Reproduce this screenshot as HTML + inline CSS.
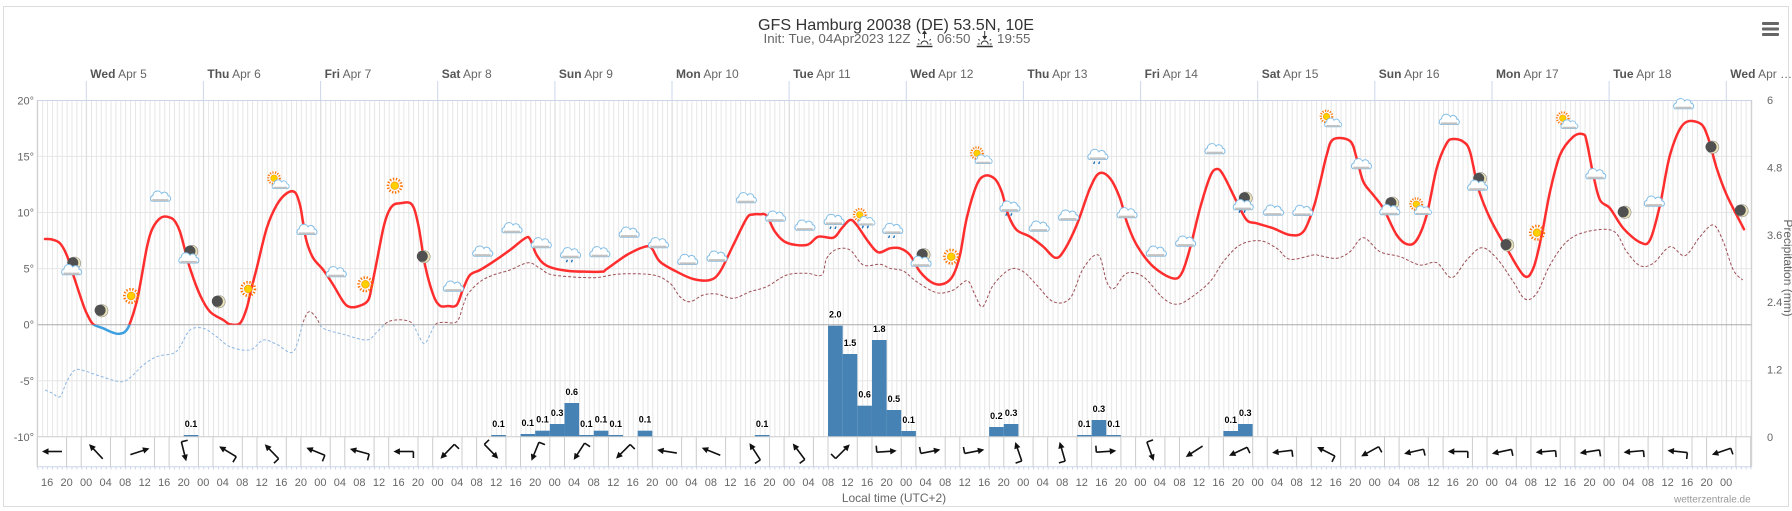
<!DOCTYPE html>
<html><head><meta charset="utf-8"><style>
html,body{margin:0;padding:0;background:#fff;}
svg{display:block;font-family:"Liberation Sans",Arial,sans-serif;}
</style></head><body>
<svg id="ch" width="1792" height="511" viewBox="0 0 1792 511" xmlns="http://www.w3.org/2000/svg">
<defs>
<pattern id="hp" patternUnits="userSpaceOnUse" x="37.3" y="0" width="4.881" height="20"><rect x="0" y="0" width="1" height="20" fill="#e6e6e6"/></pattern>
<pattern id="tp" patternUnits="userSpaceOnUse" x="37.3" y="0" width="4.881" height="20"><rect x="0" y="0" width="1" height="20" fill="#ccd6eb"/></pattern>
<clipPath id="ab"><rect x="0" y="0" width="1792" height="324.7"/></clipPath>
<clipPath id="bl"><rect x="0" y="324.7" width="1792" height="200"/></clipPath>
<g id="cl"><path d="M-8.5,4.5A3.2,3.2 0 0 1 -7.5,-1.2A4.6,4.6 0 0 1 1.2,-3.2A3.6,3.6 0 0 1 7.6,-1A2.9,2.9 0 0 1 8.5,4.5Z" fill="#fff" stroke="#82bde6" stroke-width="1"/><rect x="-8" y="2.4" width="16" height="2.1" fill="#c2c2c2"/></g>
<g id="sn"><circle r="6.8" fill="none" stroke="#ff7300" stroke-width="2.6" stroke-dasharray="1.3 1.7"/><circle r="3.8" fill="#ffd000" stroke="#ffa000" stroke-width="0.8"/></g>
<g id="mn"><circle r="6.2" fill="#ebe3b8" stroke="#8a8a8a" stroke-width="0.6"/><circle cx="-1.7" cy="-0.4" r="5.5" fill="#505050"/></g>
<g id="rn"><path d="M-3,6.5l-1,2.5M2,6.5l-1,2.5" stroke="#1f6fb5" stroke-width="1.4"/></g>
<g id="C"><use href="#cl"/></g>
<g id="CR"><use href="#cl"/><use href="#rn"/></g>
<g id="S"><use href="#sn"/></g>
<g id="M"><use href="#mn"/></g>
<g id="SC"><use href="#sn" transform="translate(-3.5,-3.5) scale(0.85)"/><use href="#cl" transform="translate(3,3) scale(0.85)"/></g>
<g id="SCR"><use href="#sn" transform="translate(-3.5,-3.5) scale(0.85)"/><use href="#cl" transform="translate(3,3) scale(0.85)"/><use href="#rn" transform="translate(3,1)"/></g>
<g id="MC"><use href="#mn" transform="translate(2,-3.5)"/><use href="#cl" transform="translate(-1,3.5)"/></g>
<g id="MCR"><use href="#mn" transform="translate(2,-3.5)"/><use href="#cl" transform="translate(-1,3.5)"/><use href="#rn" transform="translate(-1,2)"/></g>
<g id="a0"><path d="M-10,0H5" stroke="#111" stroke-width="1.6"/><path d="M10,0L3.5,-3.2V3.2Z" fill="#111"/></g>
<g id="a1"><use href="#a0"/><path d="M-10,0V-6.5" stroke="#111" stroke-width="1.6"/></g>
</defs>

<!-- chart border -->
<rect x="3.5" y="6.5" width="1785" height="500" fill="#fff" stroke="#dddddd" stroke-width="1"/>

<!-- title -->
<text x="896" y="30" text-anchor="middle" font-size="16" fill="#333" textLength="276" lengthAdjust="spacingAndGlyphs">GFS Hamburg 20038 (DE) 53.5N, 10E</text>
<text x="763.5" y="43" font-size="13" fill="#666" textLength="147" lengthAdjust="spacingAndGlyphs">Init: Tue, 04Apr2023 12Z</text>
<g transform="translate(924.5,0)" stroke="#333" fill="none" stroke-width="1">
<path d="M-8,46.5H8" stroke-width="1.4"/><path d="M-3.5,44.5A3.5,3.5 0 0 1 3.5,44.5"/><path d="M-7,44h2M5,44h2M-5,40.5l-1.3,-1.3M5,40.5l1.3,-1.3"/><path d="M0,38.5V32"/><path d="M-2,34L0,31L2,34" fill="#333"/>
</g>
<text x="937" y="43" font-size="13" fill="#666" textLength="33.5" lengthAdjust="spacingAndGlyphs">06:50</text>
<g transform="translate(984.7,0)" stroke="#333" fill="none" stroke-width="1">
<path d="M-8,46.5H8" stroke-width="1.4"/><path d="M-3.5,44.5A3.5,3.5 0 0 1 3.5,44.5"/><path d="M-7,44h2M5,44h2M-5,40.5l-1.3,-1.3M5,40.5l1.3,-1.3"/><path d="M0,31V38"/><path d="M-2,36L0,39L2,36" fill="#333"/>
</g>
<text x="997" y="43" font-size="13" fill="#666" textLength="33.5" lengthAdjust="spacingAndGlyphs">19:55</text>

<!-- hamburger -->
<rect x="1762" y="22" width="17" height="3" rx="1" fill="#666"/>
<rect x="1762" y="27.5" width="17" height="3" rx="1" fill="#666"/>
<rect x="1762" y="33" width="17" height="3" rx="1" fill="#666"/>

<!-- plot grid -->
<rect x="37.3" y="100" width="1714.4" height="336.7" fill="url(#hp)"/>
<g stroke="#e6e6e6" stroke-width="1">
<path d="M37.3,156.4H1751.7M37.3,212.5H1751.7M37.3,268.6H1751.7M37.3,380.8H1751.7"/>
</g>
<g stroke="#dcdcdc" stroke-width="1">
<path d="M86.3,100V436.7M203.4,100V436.7M320.6,100V436.7M437.7,100V436.7M554.9,100V436.7M672,100V436.7M789.1,100V436.7M906.3,100V436.7M1023.4,100V436.7M1140.6,100V436.7M1257.7,100V436.7M1374.8,100V436.7M1492,100V436.7M1609.1,100V436.7M1726.3,100V436.7"/>
</g>
<path d="M37.3,324.7H1751.7" stroke="#aaaaaa" stroke-width="1"/>
<path d="M37.3,100.5H1751.7" stroke="#ccd6eb" stroke-width="1"/>
<path d="M37.3,100V466.7M1751.7,100V466.7" stroke="#cccccc" stroke-width="1"/>
<!-- top day ticks -->
<path d="M86.3,81V100M203.4,81V100M320.6,81V100M437.7,81V100M554.9,81V100M672,81V100M789.1,81V100M906.3,81V100M1023.4,81V100M1140.6,81V100M1257.7,81V100M1374.8,81V100M1492,81V100M1609.1,81V100M1726.3,81V100" stroke="#ccd6eb" stroke-width="1"/>

<!-- day labels -->
<g font-size="12" fill="#666">
<text x="90.3" y="78"><tspan font-weight="bold" fill="#555">Wed</tspan> Apr 5</text>
<text x="207.4" y="78"><tspan font-weight="bold" fill="#555">Thu</tspan> Apr 6</text>
<text x="324.6" y="78"><tspan font-weight="bold" fill="#555">Fri</tspan> Apr 7</text>
<text x="441.7" y="78"><tspan font-weight="bold" fill="#555">Sat</tspan> Apr 8</text>
<text x="558.9" y="78"><tspan font-weight="bold" fill="#555">Sun</tspan> Apr 9</text>
<text x="676" y="78"><tspan font-weight="bold" fill="#555">Mon</tspan> Apr 10</text>
<text x="793.1" y="78"><tspan font-weight="bold" fill="#555">Tue</tspan> Apr 11</text>
<text x="910.3" y="78"><tspan font-weight="bold" fill="#555">Wed</tspan> Apr 12</text>
<text x="1027.4" y="78"><tspan font-weight="bold" fill="#555">Thu</tspan> Apr 13</text>
<text x="1144.6" y="78"><tspan font-weight="bold" fill="#555">Fri</tspan> Apr 14</text>
<text x="1261.7" y="78"><tspan font-weight="bold" fill="#555">Sat</tspan> Apr 15</text>
<text x="1378.8" y="78"><tspan font-weight="bold" fill="#555">Sun</tspan> Apr 16</text>
<text x="1496" y="78"><tspan font-weight="bold" fill="#555">Mon</tspan> Apr 17</text>
<text x="1613.1" y="78"><tspan font-weight="bold" fill="#555">Tue</tspan> Apr 18</text>
<text x="1730.3" y="78"><tspan font-weight="bold" fill="#555">Wed</tspan> Apr …</text>
</g>

<!-- left axis labels -->
<g font-size="11" fill="#666" text-anchor="end">
<text x="34" y="104.3">20°</text>
<text x="34" y="160.4">15°</text>
<text x="34" y="216.5">10°</text>
<text x="34" y="272.6">5°</text>
<text x="34" y="328.7">0°</text>
<text x="34" y="384.8">-5°</text>
<text x="34" y="440.9">-10°</text>
</g>
<!-- right axis labels -->
<g font-size="11" fill="#666">
<text x="1767" y="104">6</text>
<text x="1767" y="171.4">4.8</text>
<text x="1767" y="238.8">3.6</text>
<text x="1767" y="306.2">2.4</text>
<text x="1767" y="373.6">1.2</text>
<text x="1767" y="441">0</text>
</g>
<text transform="translate(1784,268) rotate(90)" text-anchor="middle" font-size="12" fill="#666">Precipitation (mm)</text>

<!-- precipitation bars -->
<g fill="#4682b4">
<rect x="183.73" y="435" width="14.64" height="1.7"/>
<rect x="491.23" y="435" width="14.64" height="1.7"/>
<rect x="520.52" y="434" width="14.64" height="2.7"/>
<rect x="535.16" y="430.7" width="14.64" height="6"/>
<rect x="549.81" y="424" width="14.64" height="12.7"/>
<rect x="564.45" y="403" width="14.64" height="33.7"/>
<rect x="579.09" y="435" width="14.64" height="1.7"/>
<rect x="593.73" y="430.7" width="14.64" height="6"/>
<rect x="608.38" y="435" width="14.64" height="1.7"/>
<rect x="637.66" y="430.7" width="14.64" height="6"/>
<rect x="754.81" y="435" width="14.64" height="1.7"/>
<rect x="828.02" y="325.7" width="14.64" height="111"/>
<rect x="842.67" y="354" width="14.64" height="82.7"/>
<rect x="857.31" y="405.7" width="14.64" height="31"/>
<rect x="871.95" y="340" width="14.64" height="96.7"/>
<rect x="886.59" y="410" width="14.64" height="26.7"/>
<rect x="901.24" y="431" width="14.64" height="5.7"/>
<rect x="989.1" y="427" width="14.64" height="9.7"/>
<rect x="1003.74" y="424" width="14.64" height="12.7"/>
<rect x="1076.95" y="435" width="14.64" height="1.7"/>
<rect x="1091.6" y="420" width="14.64" height="16.7"/>
<rect x="1106.24" y="435" width="14.64" height="1.7"/>
<rect x="1223.38" y="431" width="14.64" height="5.7"/>
<rect x="1238.03" y="424" width="14.64" height="12.7"/>
</g>
<g font-size="9" font-weight="bold" fill="#000" text-anchor="middle" stroke="#fff" stroke-width="2" paint-order="stroke" stroke-linejoin="round">
<text x="191" y="427">0.1</text>
<text x="498.5" y="427">0.1</text>
<text x="527.8" y="426">0.1</text>
<text x="542.5" y="422.7">0.1</text>
<text x="557.1" y="416">0.3</text>
<text x="571.8" y="395">0.6</text>
<text x="586.4" y="427">0.1</text>
<text x="601" y="422.7">0.1</text>
<text x="615.7" y="427">0.1</text>
<text x="645" y="422.7">0.1</text>
<text x="762.1" y="427">0.1</text>
<text x="835.3" y="317.7">2.0</text>
<text x="850" y="346">1.5</text>
<text x="864.6" y="397.7">0.6</text>
<text x="879.3" y="332">1.8</text>
<text x="893.9" y="402">0.5</text>
<text x="908.6" y="423">0.1</text>
<text x="996.4" y="419">0.2</text>
<text x="1011.1" y="416">0.3</text>
<text x="1084.3" y="427">0.1</text>
<text x="1098.9" y="412">0.3</text>
<text x="1113.6" y="427">0.1</text>
<text x="1230.7" y="423">0.1</text>
<text x="1245.3" y="416">0.3</text>
</g>

<!-- dew point -->
<g fill="none" stroke-width="1" stroke-dasharray="3 2">
<polyline class="sm" clip-path="url(#ab)" stroke="#9e4f55" points="45,390 52,393 60,396.7 66.7,381.7 75,370 85,371 96.7,375 120,381.7 130,377.7 143.3,365 156.7,356.7 173.3,353.3 180,346.7 190,330 203.3,328.3 216.7,336.7 230,346.7 250,350 263.3,340 276.7,344.3 293.3,351.7 303.3,321.7 309.3,311.7 316.7,318.3 323.3,328.3 343.3,334.3 366.7,340 376.7,332.3 390,321 410,321.7 418.3,335 425,343.3 435,325 443.3,322.3 456.7,321.7 463.3,305 468,294 480,281.7 493.3,275 510,270 528.3,262.7 540,268.3 553.3,275 593.3,277.7 620,274 653.3,275 670,283.3 680,296.7 690,301.7 703.3,295 716.7,294 733.3,298.3 750,291.7 766.7,286.7 786.7,275 806.7,273.3 821.7,275 826.7,258.3 836.7,249.3 850,250 863.3,265 880,264.3 890,268.3 903.3,271 916.7,281.7 936.7,292.7 953.3,290 967.3,280.7 975,295 982.7,306.7 993.3,285 1010,269.3 1023.3,271.7 1036.7,285 1053.3,301.7 1070,298.3 1083.3,268.3 1098.3,255 1106.7,281.7 1114,288.3 1126.7,273.3 1143.3,276.7 1163.3,298.3 1176.7,304.3 1190,298.3 1210,281.7 1223.3,261.7 1240,245 1260,240.7 1276.7,248.3 1290,259.3 1313.3,255 1320,255.7 1336.7,258.3 1350,251.7 1363.3,237.7 1380,251.7 1400,256.7 1420,265 1436.7,262.7 1451.7,277.7 1466.7,260 1481.7,247.7 1496.7,258.3 1513.3,281.7 1525,299 1536.7,293.3 1550,265 1566.7,241.7 1586.7,231.7 1613.3,231 1626.7,251.7 1640,265.7 1653.3,263.3 1670,246.7 1685,255.7 1700,236.7 1713.3,225 1723.3,241.7 1733.3,270 1742.7,280"/>
<polyline class="sm" clip-path="url(#bl)" stroke="#8db6e2" points="45,390 52,393 60,396.7 66.7,381.7 75,370 85,371 96.7,375 120,381.7 130,377.7 143.3,365 156.7,356.7 173.3,353.3 180,346.7 190,330 203.3,328.3 216.7,336.7 230,346.7 250,350 263.3,340 276.7,344.3 293.3,351.7 303.3,321.7 309.3,311.7 316.7,318.3 323.3,328.3 343.3,334.3 366.7,340 376.7,332.3 390,321 410,321.7 418.3,335 425,343.3 435,325 443.3,322.3 456.7,321.7 463.3,305 468,294"/>
</g>

<!-- temperature -->
<g fill="none" stroke-width="2.5" stroke-linejoin="round" stroke-linecap="round">
<polyline class="sm" clip-path="url(#ab)" stroke="#ff2e2e" points="45,239 52,239.5 60,243.3 66.7,255 73.3,275 83.3,305 88,316 93.3,324.3 103.3,328.3 110,331.5 116.7,333.7 121,333.5 125,331.7 129.3,325 136.7,301.7 141,280 146.7,248.3 151,232 156.7,221.7 163.3,216.7 171.7,218.3 176,223 180,231.7 185,250 190,268.3 200,295 210,311.7 223.3,320 230,324.3 240,323.3 246.7,308.3 251,290 256.7,268.3 266.7,228.3 276.7,205 286.7,193.3 295,192.3 300,205 303,222 306.7,241.7 313.3,258.3 323.3,270 333.3,285 343.3,301.7 350,307 360,305.7 368.3,300 372,285 376.7,261.7 383.3,228.3 388,213 393.3,205 400,203.3 411.7,204.3 418.3,225 425,265 433.3,295 440,305.7 448,306 456.7,305 463.3,288.3 470,275 480,270 493.3,261.7 510,250 525,238.3 530,239 536.7,255 546.7,265.7 566.7,270.7 600,271.7 606.7,269 626.7,255 645,246.7 651.7,248.3 660,261.7 676.7,271.7 693.3,279 710,280 720,271.7 733.3,245 746.7,218.3 753,214.5 760,214.3 766.7,215.7 775,231.7 786.7,242.7 806.7,245 818.3,236.7 833.3,237.7 841.7,228.3 850,220 856.7,225 868.3,241.7 878.3,252.3 890,248.3 900,248.3 910,255 920,271.7 933.3,283.3 945,283.3 953.3,275 960,255 966.7,218.3 976.7,185 985,175.7 995,179 1001.7,191.7 1008.3,215 1016.7,230 1030,236.7 1043.3,246.7 1055,257.7 1063.3,251.7 1076.7,225 1090,188.3 1099.3,173.3 1110,178.3 1120,198.3 1126.7,221.7 1136.7,245 1153.3,266.7 1172.7,278.3 1181.7,273.3 1190,248.3 1200,208.3 1210,176.7 1216.7,169 1223.3,175 1236.7,201.7 1246.7,220 1256.7,223.3 1273.3,228.3 1290,235 1303.3,231.7 1313.3,208.3 1320,183 1326.7,155 1333.3,139.3 1350,141 1356.7,158.3 1363.3,181.7 1373.3,195 1383.3,208.3 1396.7,235 1407.3,244.3 1416.7,240 1426.7,215 1436.7,168.3 1446.7,143.3 1453.3,139 1463.3,141.7 1470,151.7 1478.3,188.3 1490,218.3 1506.7,248.3 1524,275.7 1533.3,268.3 1541.7,235 1550,191.7 1560,155 1573.3,136.7 1583.3,134.3 1586.7,141.7 1593.3,175 1600,200 1610,208.3 1623.3,228.3 1640,242.3 1650,240 1660,205 1670,155 1683.3,124.3 1700,123.3 1708.3,138.3 1716.7,168.3 1726.7,195 1744,229.3"/>
<polyline class="sm" clip-path="url(#bl)" stroke="#3c9fe0" points="73.3,275 83.3,305 88,316 93.3,324.3 103.3,328.3 110,331.5 116.7,333.7 121,333.5 125,331.7 129.3,325 136.7,301.7 141,280"/>
</g>

<!-- weather icons -->
<use href="#MC" x="72.5" y="266.7"/>
<use href="#M" x="101.8" y="310.7"/>
<use href="#S" x="131.1" y="296"/>
<use href="#C" x="160.4" y="196.7"/>
<use href="#MC" x="189.7" y="255"/>
<use href="#M" x="219" y="301.7"/>
<use href="#S" x="248.2" y="289"/>
<use href="#SC" x="277.5" y="181.7"/>
<use href="#C" x="306.8" y="230"/>
<use href="#C" x="336.1" y="272.3"/>
<use href="#S" x="365.4" y="284.3"/>
<use href="#S" x="394.7" y="185.7"/>
<use href="#M" x="424" y="256.7"/>
<use href="#C" x="453.3" y="286.7"/>
<use href="#C" x="482.6" y="251.7"/>
<use href="#C" x="511.9" y="228.3"/>
<use href="#C" x="541.1" y="243.3"/>
<use href="#CR" x="570.4" y="253.3"/>
<use href="#C" x="599.7" y="252.3"/>
<use href="#C" x="629" y="232.7"/>
<use href="#C" x="658.3" y="243.3"/>
<use href="#C" x="687.6" y="260"/>
<use href="#C" x="716.9" y="256.7"/>
<use href="#C" x="746.2" y="198.3"/>
<use href="#C" x="775.5" y="216.7"/>
<use href="#C" x="804.8" y="225.7"/>
<use href="#CR" x="834" y="220"/>
<use href="#SCR" x="863.3" y="218.3"/>
<use href="#CR" x="892.6" y="229"/>
<use href="#MC" x="921.9" y="258.3"/>
<use href="#S" x="951.2" y="256.7"/>
<use href="#SC" x="980.5" y="156.7"/>
<use href="#CR" x="1009.8" y="206.7"/>
<use href="#C" x="1039.1" y="226.7"/>
<use href="#C" x="1068.4" y="215.7"/>
<use href="#CR" x="1097.7" y="155"/>
<use href="#C" x="1126.9" y="213.3"/>
<use href="#C" x="1156.2" y="251.7"/>
<use href="#C" x="1185.5" y="241.7"/>
<use href="#C" x="1214.8" y="149.3"/>
<use href="#MCR" x="1244.1" y="201.7"/>
<use href="#C" x="1273.4" y="210.7"/>
<use href="#C" x="1302.7" y="211"/>
<use href="#SC" x="1330" y="120"/>
<use href="#C" x="1361.3" y="164.3"/>
<use href="#MC" x="1390.6" y="206.7"/>
<use href="#SC" x="1419.8" y="207.7"/>
<use href="#C" x="1449.1" y="120"/>
<use href="#MC" x="1478.4" y="182.3"/>
<use href="#M" x="1507.7" y="245"/>
<use href="#S" x="1537" y="232.7"/>
<use href="#SC" x="1566.3" y="121.7"/>
<use href="#C" x="1595.6" y="174.3"/>
<use href="#M" x="1624.9" y="212.3"/>
<use href="#C" x="1654.2" y="201.7"/>
<use href="#C" x="1683.5" y="104.3"/>
<use href="#M" x="1712.7" y="147.3"/>
<use href="#M" x="1742" y="210.7"/>

<!-- wind panel -->
<path d="M37.3,436.7H1751.7" stroke="#cccccc" stroke-width="1"/>
<path d="M37.3,466.7H1751.7" stroke="#ccd6eb" stroke-width="1"/>
<rect x="37.3" y="467" width="1714.4" height="2.5" fill="url(#tp)"/>
<path stroke="#cccccc" stroke-width="1" d="M37.3,437v30M81.2,437v30M125.2,437v30M169.1,437v30M213,437v30M257,437v30M300.9,437v30M344.8,437v30M388.7,437v30M432.7,437v30M476.6,437v30M520.5,437v30M564.5,437v30M608.4,437v30M652.3,437v30M696.3,437v30M740.2,437v30M784.1,437v30M828,437v30M872,437v30M915.9,437v30M959.8,437v30M1003.8,437v30M1047.7,437v30M1091.6,437v30M1135.6,437v30M1179.5,437v30M1223.4,437v30M1267.3,437v30M1311.3,437v30M1355.2,437v30M1399.1,437v30M1443.1,437v30M1487,437v30M1530.9,437v30M1574.9,437v30M1618.8,437v30M1662.7,437v30M1706.6,437v30M1750.6,437v30M66.6,437v30M110.5,437v30M154.5,437v30M198.4,437v30M242.3,437v30M286.3,437v30M330.2,437v30M374.1,437v30M418,437v30M462,437v30M505.9,437v30M549.8,437v30M593.8,437v30M637.7,437v30M681.6,437v30M725.6,437v30M769.5,437v30M813.4,437v30M857.3,437v30M901.3,437v30M945.2,437v30M989.1,437v30M1033.1,437v30M1077,437v30M1120.9,437v30M1164.9,437v30M1208.8,437v30M1252.7,437v30M1296.6,437v30M1340.6,437v30M1384.5,437v30M1428.4,437v30M1472.4,437v30M1516.3,437v30M1560.2,437v30M1604.2,437v30M1648.1,437v30M1692,437v30M1735.9,437v30"/>

<!-- wind arrows -->
<use href="#a0" transform="translate(52,451.5) rotate(180)"/>
<use href="#a0" transform="translate(95.9,451.5) rotate(227)"/>
<use href="#a0" transform="translate(139.9,451.5) rotate(-18)"/>
<use href="#a1" transform="translate(183.8,451.5) rotate(76)"/>
<use href="#a1" transform="translate(227.7,451.5) rotate(211)"/>
<use href="#a1" transform="translate(271.7,451.5) rotate(226)"/>
<use href="#a1" transform="translate(315.6,451.5) rotate(202)"/>
<use href="#a1" transform="translate(359.5,451.5) rotate(195)"/>
<use href="#a1" transform="translate(403.4,451.5) rotate(180)"/>
<use href="#a1" transform="translate(447.4,451.5) rotate(134)"/>
<use href="#a1" transform="translate(491.3,451.5) rotate(46)"/>
<use href="#a1" transform="translate(535.2,451.5) rotate(112)"/>
<use href="#a1" transform="translate(579.2,451.5) rotate(123)"/>
<use href="#a1" transform="translate(623.1,451.5) rotate(135)"/>
<use href="#a0" transform="translate(667,451.5) rotate(189)"/>
<use href="#a0" transform="translate(711,451.5) rotate(202)"/>
<use href="#a1" transform="translate(754.9,451.5) rotate(237)"/>
<use href="#a1" transform="translate(798.8,451.5) rotate(233)"/>
<use href="#a1" transform="translate(842.7,451.5) rotate(-45)"/>
<use href="#a1" transform="translate(886.7,451.5) rotate(-4)"/>
<use href="#a1" transform="translate(930.6,451.5) rotate(-11)"/>
<use href="#a1" transform="translate(974.5,451.5) rotate(-11)"/>
<use href="#a1" transform="translate(1018.5,451.5) rotate(251)"/>
<use href="#a1" transform="translate(1062.4,451.5) rotate(254)"/>
<use href="#a1" transform="translate(1106.3,451.5) rotate(-4)"/>
<use href="#a1" transform="translate(1150.3,451.5) rotate(70)"/>
<use href="#a0" transform="translate(1194.2,451.5) rotate(147)"/>
<use href="#a1" transform="translate(1238.1,451.5) rotate(155)"/>
<use href="#a1" transform="translate(1282,451.5) rotate(173)"/>
<use href="#a1" transform="translate(1326,451.5) rotate(207)"/>
<use href="#a1" transform="translate(1369.9,451.5) rotate(151)"/>
<use href="#a1" transform="translate(1413.8,451.5) rotate(167)"/>
<use href="#a1" transform="translate(1457.8,451.5) rotate(180)"/>
<use href="#a1" transform="translate(1501.7,451.5) rotate(168)"/>
<use href="#a1" transform="translate(1545.6,451.5) rotate(175)"/>
<use href="#a1" transform="translate(1589.6,451.5) rotate(171)"/>
<use href="#a1" transform="translate(1633.5,451.5) rotate(175)"/>
<use href="#a1" transform="translate(1677.4,451.5) rotate(186)"/>
<use href="#a1" transform="translate(1721.3,451.5) rotate(161)"/>

<!-- bottom tick labels -->
<g font-size="11" fill="#666" text-anchor="middle">
<text x="47.1" y="486">16</text><text x="66.6" y="486">20</text><text x="86.1" y="486">00</text><text x="105.6" y="486">04</text><text x="125.2" y="486">08</text><text x="144.7" y="486">12</text>
<text x="164.2" y="486">16</text><text x="183.7" y="486">20</text><text x="203.3" y="486">00</text><text x="222.8" y="486">04</text><text x="242.3" y="486">08</text><text x="261.8" y="486">12</text>
<text x="281.3" y="486">16</text><text x="300.9" y="486">20</text><text x="320.4" y="486">00</text><text x="339.9" y="486">04</text><text x="359.4" y="486">08</text><text x="379" y="486">12</text>
<text x="398.5" y="486">16</text><text x="418" y="486">20</text><text x="437.5" y="486">00</text><text x="457.1" y="486">04</text><text x="476.6" y="486">08</text><text x="496.1" y="486">12</text>
<text x="515.6" y="486">16</text><text x="535.2" y="486">20</text><text x="554.7" y="486">00</text><text x="574.2" y="486">04</text><text x="593.7" y="486">08</text><text x="613.3" y="486">12</text>
<text x="632.8" y="486">16</text><text x="652.3" y="486">20</text><text x="671.8" y="486">00</text><text x="691.4" y="486">04</text><text x="710.9" y="486">08</text><text x="730.4" y="486">12</text>
<text x="749.9" y="486">16</text><text x="769.4" y="486">20</text><text x="789" y="486">00</text><text x="808.5" y="486">04</text><text x="828" y="486">08</text><text x="847.5" y="486">12</text>
<text x="867.1" y="486">16</text><text x="886.6" y="486">20</text><text x="906.1" y="486">00</text><text x="925.6" y="486">04</text><text x="945.2" y="486">08</text><text x="964.7" y="486">12</text>
<text x="984.2" y="486">16</text><text x="1003.7" y="486">20</text><text x="1023.3" y="486">00</text><text x="1042.8" y="486">04</text><text x="1062.3" y="486">08</text><text x="1081.8" y="486">12</text>
<text x="1101.4" y="486">16</text><text x="1120.9" y="486">20</text><text x="1140.4" y="486">00</text><text x="1159.9" y="486">04</text><text x="1179.5" y="486">08</text><text x="1199" y="486">12</text>
<text x="1218.5" y="486">16</text><text x="1238" y="486">20</text><text x="1257.6" y="486">00</text><text x="1277.1" y="486">04</text><text x="1296.6" y="486">08</text><text x="1316.1" y="486">12</text>
<text x="1335.6" y="486">16</text><text x="1355.2" y="486">20</text><text x="1374.7" y="486">00</text><text x="1394.2" y="486">04</text><text x="1413.7" y="486">08</text><text x="1433.3" y="486">12</text>
<text x="1452.8" y="486">16</text><text x="1472.3" y="486">20</text><text x="1491.8" y="486">00</text><text x="1511.4" y="486">04</text><text x="1530.9" y="486">08</text><text x="1550.4" y="486">12</text>
<text x="1569.9" y="486">16</text><text x="1589.5" y="486">20</text><text x="1609" y="486">00</text><text x="1628.5" y="486">04</text><text x="1648" y="486">08</text><text x="1667.6" y="486">12</text>
<text x="1687.1" y="486">16</text><text x="1706.6" y="486">20</text><text x="1726.1" y="486">00</text>
</g>

<text x="894" y="502" text-anchor="middle" font-size="12" fill="#666">Local time (UTC+2)</text>
<text x="1750.7" y="502.5" text-anchor="end" font-size="10" fill="#999">wetterzentrale.de</text>
</svg>
<script>
(function(){
  var ns="http://www.w3.org/2000/svg";
  var list=document.querySelectorAll('polyline.sm');
  for(var q=0;q<list.length;q++){
    var pl=list[q];
    var raw=pl.getAttribute('points').trim().split(/\s+/);
    var pts=[];
    for(var r=0;r<raw.length;r++){var a=raw[r].split(',');pts.push([+a[0],+a[1]]);}
    var d='M'+pts[0][0]+','+pts[0][1];
    for(var i=0;i<pts.length-1;i++){
      var p0=pts[i-1]||pts[i],p1=pts[i],p2=pts[i+1],p3=pts[i+2]||p2;
      var t=1/6;
      var c1x=p1[0]+(p2[0]-p0[0])*t,c1y=p1[1]+(p2[1]-p0[1])*t;
      var c2x=p2[0]-(p3[0]-p1[0])*t,c2y=p2[1]-(p3[1]-p1[1])*t;
      d+='C'+c1x.toFixed(2)+','+c1y.toFixed(2)+' '+c2x.toFixed(2)+','+c2y.toFixed(2)+' '+p2[0]+','+p2[1];
    }
    var p=document.createElementNS(ns,'path');
    for(var j=0;j<pl.attributes.length;j++){var at=pl.attributes[j];if(at.name!=='points'&&at.name!=='class'){p.setAttribute(at.name,at.value);}}
    p.setAttribute('d',d);
    pl.parentNode.replaceChild(p,pl);
  }
})();
</script>
</body></html>
